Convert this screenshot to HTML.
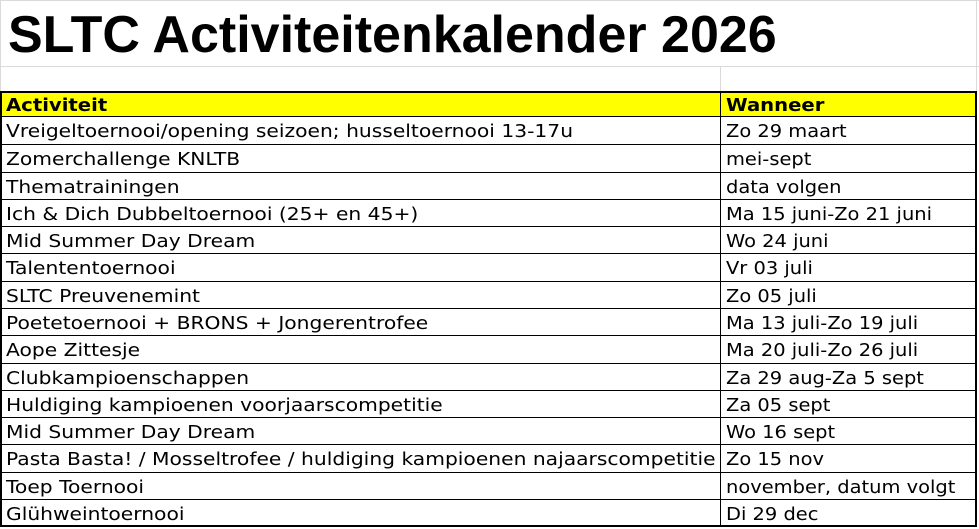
<!DOCTYPE html>
<html>
<head>
<meta charset="utf-8">
<style>
  html,body{margin:0;padding:0;background:#fff;}
  body{width:979px;height:529px;position:relative;overflow:hidden;}
  .g{position:absolute;background:#dadada;}
  .b{position:absolute;background:#000;}
  .title{position:absolute;left:8px;top:5px;font-family:"Liberation Sans",Arial,sans-serif;font-weight:bold;font-size:52px;line-height:normal;white-space:nowrap;color:#000;}
  .t{position:absolute;height:27px;line-height:27px;font-family:"DejaVu Sans","Liberation Sans",sans-serif;font-size:18px;color:#000;white-space:nowrap;}
  .t span{display:inline-block;transform-origin:0 50%;}
  .c1{left:6px;}
  .c1 span{transform:scaleX(1.125);}
  .c2{left:726px;}
  .c2 span{transform:scaleX(1.08);}
  .h{font-weight:bold;}
  .c1.h span{transform:scaleX(1.09);}
  .c2.h span{transform:scaleX(1.09);}
</style>
</head>
<body>
<!-- gridlines -->
<div class="g" style="left:0;top:0;width:979px;height:1px;"></div>
<div class="g" style="left:0;top:0;width:1px;height:91px;"></div>
<div class="g" style="left:0;top:66px;width:979px;height:1px;"></div>
<div class="g" style="left:976px;top:0;width:1px;height:91px;"></div>
<div class="g" style="left:720px;top:66px;width:1px;height:25px;"></div>

<div class="title">SLTC Activiteitenkalender 2026</div>

<!-- header fill -->
<div style="position:absolute;left:2px;top:93px;width:973px;height:23px;background:#ffff00;"></div>

<!-- table borders -->
<div class="b" style="left:0;top:91px;width:977px;height:2px;"></div>
<div class="b" style="left:0;top:91px;width:2px;height:436px;"></div>
<div class="b" style="left:975px;top:91px;width:2px;height:436px;"></div>
<div class="b" style="left:0;top:525px;width:977px;height:2px;"></div>
<div class="b" style="left:720px;top:91px;width:1px;height:436px;"></div>

<!-- row lines -->
<div class="b" style="left:0;top:116px;width:977px;height:1px;"></div>
<div class="b" style="left:0;top:144px;width:977px;height:1px;"></div>
<div class="b" style="left:0;top:172px;width:977px;height:1px;"></div>
<div class="b" style="left:0;top:199px;width:977px;height:1px;"></div>
<div class="b" style="left:0;top:226px;width:977px;height:1px;"></div>
<div class="b" style="left:0;top:253px;width:977px;height:1px;"></div>
<div class="b" style="left:0;top:281px;width:977px;height:1px;"></div>
<div class="b" style="left:0;top:308px;width:977px;height:1px;"></div>
<div class="b" style="left:0;top:335px;width:977px;height:1px;"></div>
<div class="b" style="left:0;top:363px;width:977px;height:1px;"></div>
<div class="b" style="left:0;top:390px;width:977px;height:1px;"></div>
<div class="b" style="left:0;top:417px;width:977px;height:1px;"></div>
<div class="b" style="left:0;top:444px;width:977px;height:1px;"></div>
<div class="b" style="left:0;top:472px;width:977px;height:1px;"></div>
<div class="b" style="left:0;top:499px;width:977px;height:1px;"></div>

<!-- header text -->
<div class="t c1 h" style="top:92px;"><span>Activiteit</span></div>
<div class="t c2 h" style="top:92px;"><span>Wanneer</span></div>

<!-- rows -->
<div class="t c1" style="top:118px;"><span>Vreigeltoernooi/opening seizoen; husseltoernooi 13-17u</span></div>
<div class="t c2" style="top:118px;"><span>Zo 29 maart</span></div>

<div class="t c1" style="top:146px;"><span>Zomerchallenge KNLTB</span></div>
<div class="t c2" style="top:146px;"><span>mei-sept</span></div>

<div class="t c1" style="top:174px;"><span>Thematrainingen</span></div>
<div class="t c2" style="top:174px;"><span>data volgen</span></div>

<div class="t c1" style="top:201px;"><span>Ich &amp; Dich Dubbeltoernooi (25+ en 45+)</span></div>
<div class="t c2" style="top:201px;"><span>Ma 15 juni-Zo 21 juni</span></div>

<div class="t c1" style="top:228px;"><span>Mid Summer Day Dream</span></div>
<div class="t c2" style="top:228px;"><span>Wo 24 juni</span></div>

<div class="t c1" style="top:255px;"><span>Talententoernooi</span></div>
<div class="t c2" style="top:255px;"><span>Vr 03 juli</span></div>

<div class="t c1" style="top:283px;"><span>SLTC Preuvenemint</span></div>
<div class="t c2" style="top:283px;"><span>Zo 05 juli</span></div>

<div class="t c1" style="top:310px;"><span>Poetetoernooi + BRONS + Jongerentrofee</span></div>
<div class="t c2" style="top:310px;"><span>Ma 13 juli-Zo 19 juli</span></div>

<div class="t c1" style="top:337px;"><span>Aope Zittesje</span></div>
<div class="t c2" style="top:337px;"><span>Ma 20 juli-Zo 26 juli</span></div>

<div class="t c1" style="top:365px;"><span>Clubkampioenschappen</span></div>
<div class="t c2" style="top:365px;"><span>Za 29 aug-Za 5 sept</span></div>

<div class="t c1" style="top:392px;"><span>Huldiging kampioenen voorjaarscompetitie</span></div>
<div class="t c2" style="top:392px;"><span>Za 05 sept</span></div>

<div class="t c1" style="top:419px;"><span>Mid Summer Day Dream</span></div>
<div class="t c2" style="top:419px;"><span>Wo 16 sept</span></div>

<div class="t c1" style="top:446px;"><span>Pasta Basta! / Mosseltrofee / huldiging kampioenen najaarscompetitie</span></div>
<div class="t c2" style="top:446px;"><span>Zo 15 nov</span></div>

<div class="t c1" style="top:474px;"><span>Toep Toernooi</span></div>
<div class="t c2" style="top:474px;"><span>november, datum volgt</span></div>

<div class="t c1" style="top:501px;"><span>Glühweintoernooi</span></div>
<div class="t c2" style="top:501px;"><span>Di 29 dec</span></div>
</body>
</html>
